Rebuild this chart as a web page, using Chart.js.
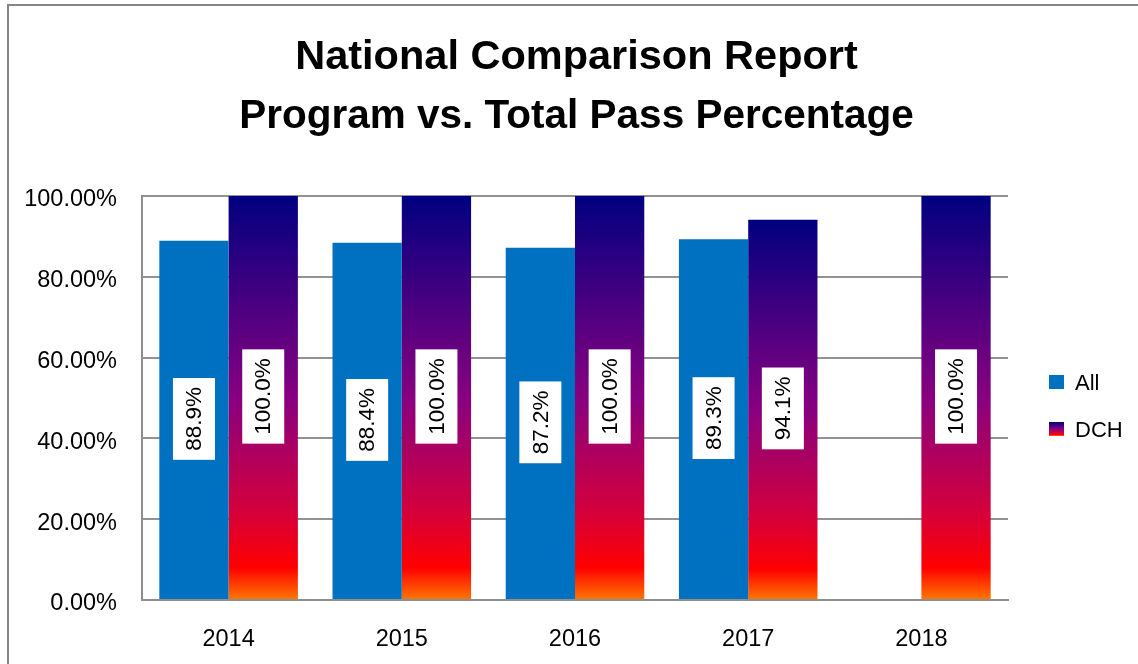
<!DOCTYPE html>
<html>
<head>
<meta charset="utf-8">
<script src="https://cdn.jsdelivr.net/npm/chart.js@4.4.1/dist/chart.umd.min.js"></script>
<style>
html,body{margin:0;padding:0;background:#fff;}
#wrap{position:relative;width:1138px;height:664px;}
</style>
</head>
<body>
<div id="wrap"><canvas id="c" width="1138" height="664"></canvas></div>
<script>
const titleLines = ["National Comparison Report", "Program vs. Total Pass Percentage"];
const years = ["2014", "2015", "2016", "2017", "2018"];
const allValues = [88.9, 88.4, 87.2, 89.3, null];
const dchValues = [100.0, 100.0, 100.0, 94.1, 100.0];
const seriesNames = ["All", "DCH"];
const yTickStep = 20;

const FONT = "'Liberation Sans', Arial, sans-serif";
const ALL_COLOR = '#0070C0';
const gradStops = [[0, '#000080'], [0.5, '#880080'], [0.78, '#d4003c'], [0.92, '#ff0000'], [1, '#ff7800']];

function makeGrad(ctx, yTop, yBot) {
  const g = ctx.createLinearGradient(0, yTop, 0, yBot);
  gradStops.forEach(s => g.addColorStop(s[0], s[1]));
  return g;
}

const decor = {
  id: 'decor',
  beforeDraw(chart) {
    const ctx = chart.ctx;
    ctx.save();
    ctx.fillStyle = '#fff';
    ctx.fillRect(0, 0, chart.width, chart.height);
    ctx.strokeStyle = '#868686';
    ctx.lineWidth = 2;
    ctx.beginPath();
    ctx.moveTo(8, 664);
    ctx.lineTo(8, 5);
    ctx.lineTo(1138, 5);
    ctx.stroke();
    // title
    ctx.fillStyle = '#000';
    ctx.textAlign = 'center';
    ctx.textBaseline = 'alphabetic';
    ctx.font = 'bold 41.5px ' + FONT;
    ctx.fillText(titleLines[0], 576.5, 69);
    ctx.font = 'bold 40.5px ' + FONT;
    ctx.fillText(titleLines[1], 576.5, 128);
    ctx.restore();
  },
  afterDatasetsDraw(chart) {
    const ctx = chart.ctx;
    ctx.save();
    ctx.font = '22.5px ' + FONT;
    chart.data.datasets.forEach((ds, di) => {
      const meta = chart.getDatasetMeta(di);
      meta.data.forEach((el, i) => {
        const v = ds.data[i];
        if (v === null || v === undefined) return;
        const txt = v.toFixed(1) + '%';
        const tw = ctx.measureText(txt).width;
        const cx = el.x;
        const cy = (el.y + el.base) / 2 - 1;
        ctx.save();
        ctx.translate(cx, cy);
        ctx.rotate(-Math.PI / 2);
        const bw = tw + 18, bh = 42;
        ctx.fillStyle = '#fff';
        ctx.fillRect(-bw / 2, -bh / 2, bw, bh);
        ctx.fillStyle = '#000';
        ctx.textAlign = 'center';
        ctx.textBaseline = 'middle';
        ctx.fillText(txt, 0, 1);
        ctx.restore();
      });
    });
    // legend
    const items = [{name: seriesNames[0], y: 382}, {name: seriesNames[1], y: 429}];
    items.forEach((it, k) => {
      if (k === 0) ctx.fillStyle = ALL_COLOR;
      else ctx.fillStyle = makeGrad(ctx, it.y - 7, it.y + 7);
      ctx.fillRect(1049, it.y - 7, 15, 14);
      ctx.fillStyle = '#000';
      ctx.font = '22px ' + FONT;
      ctx.textAlign = 'left';
      ctx.textBaseline = 'middle';
      ctx.fillText(it.name, 1075, it.y + 2);
    });
    ctx.restore();
  }
};

new Chart(document.getElementById('c'), {
  type: 'bar',
  data: {
    labels: years,
    datasets: [
      {label: seriesNames[0], data: allValues, backgroundColor: ALL_COLOR, borderWidth: 0},
      {label: seriesNames[1], data: dchValues, borderWidth: 0,
        backgroundColor: (c) => {
          const chart = c.chart;
          const ys = chart.scales.y;
          if (!ys || c.raw === undefined || c.raw === null) return '#800080';
          const top = ys.getPixelForValue(c.raw);
          const bot = ys.getPixelForValue(0);
          if (!isFinite(top) || !isFinite(bot) || top === bot) return '#800080';
          return makeGrad(chart.ctx, top, bot);
        }}
    ]
  },
  options: {
    responsive: false,
    animation: false,
    devicePixelRatio: 1,
    layout: {padding: {left: 0, right: 130, top: 196, bottom: 0}},
    datasets: {bar: {categoryPercentage: 0.8, barPercentage: 1.0}},
    plugins: {legend: {display: false}, title: {display: false}, tooltip: {enabled: false}},
    scales: {
      x: {
        grid: {display: false, drawTicks: false},
        border: {display: true, color: '#8e8e8e', width: 2},
        ticks: {color: '#000', font: {family: FONT, size: 23.5}, padding: 25, maxRotation: 0},
        afterFit(s) { s.height = 64; }
      },
      y: {
        min: 0, max: 100,
        grid: {color: '#929292', lineWidth: 2, drawTicks: false},
        border: {display: true, color: '#8e8e8e', width: 2},
        ticks: {stepSize: yTickStep, color: '#000', font: {family: FONT, size: 23.5}, padding: 25,
          labelOffset: 4,
          callback: (v) => v.toFixed(2) + '%'},
        afterFit(s) { s.width = 142; }
      }
    }
  },
  plugins: [decor]
});
</script>
</body>
</html>
